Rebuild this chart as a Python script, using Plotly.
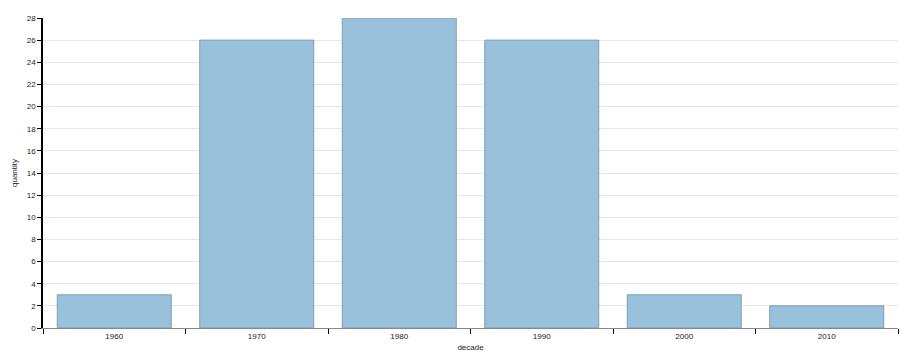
import plotly.graph_objects as go

decades = ["1960", "1970", "1980", "1990", "2000", "2010"]
quantity = [3, 26, 28, 26, 3, 2]
y_ticks = list(range(0, 29, 2))

fig = go.Figure(go.Bar(
    x=decades, y=quantity,
    marker=dict(color="#9ac1dc", line=dict(color="#7f9fb5", width=1)),
))

fig.update_layout(
    width=900, height=354,
    margin=dict(l=43, r=2, t=18, b=26),
    paper_bgcolor="white", plot_bgcolor="white",
    bargap=0.2,
    showlegend=False,
    font=dict(family="Liberation Sans, Arial, sans-serif", size=8, color="#222"),
)
fig.update_xaxes(
    type="category", tickson="boundaries", ticks="outside", ticklen=5,
    tickcolor="#000", showline=True, linecolor="#888", linewidth=1,
    showgrid=False, title=dict(text="decade", standoff=4, font=dict(size=8)),
    tickfont=dict(size=8),
)
fig.update_yaxes(
    range=[0, 28], tickvals=y_ticks, ticks="outside", ticklen=4,
    tickcolor="#000", showline=True, linecolor="#000", linewidth=1.5,
    showgrid=True, gridcolor="#e6e6e6", zeroline=False,
    title=dict(text="quantity", standoff=8, font=dict(size=8)),
    tickfont=dict(size=8),
)

fig.write_html("out.html")
